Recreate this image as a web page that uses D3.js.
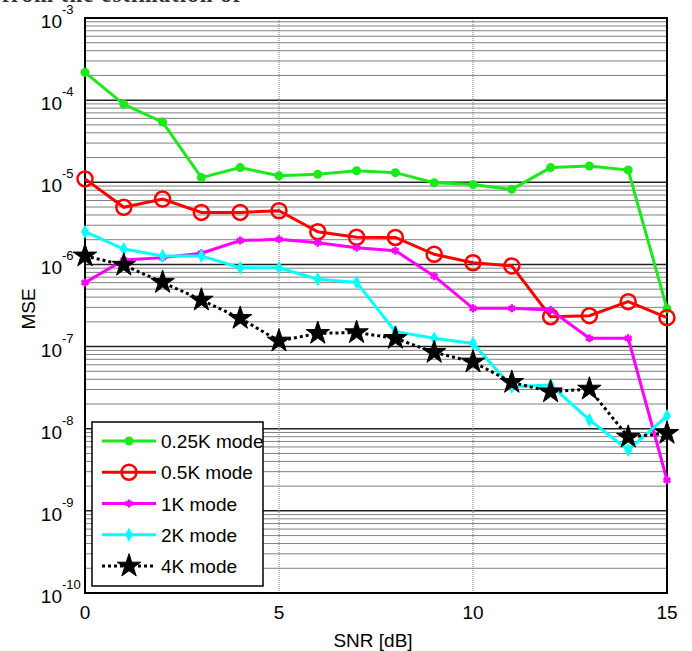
<!DOCTYPE html>
<html>
<head>
<meta charset="utf-8">
<script src="https://cdn.jsdelivr.net/npm/d3@7"></script>
<style>
  body { margin: 0; background: #fff; }
  text { font-family: Arial, "Liberation Sans", sans-serif; }
</style>
</head>
<body>
<div id="chart"></div>
<script>
// SNR values (dB)
var snr = [0, 1, 2, 3, 4, 5, 6, 7, 8, 9, 10, 11, 12, 13, 14, 15];

// MSE per mode
var mse025 = [2.18e-4, 8.9e-5, 5.4e-5, 1.14e-5, 1.51e-5, 1.2e-5, 1.25e-5, 1.38e-5, 1.31e-5, 9.9e-6, 9.4e-6, 8.2e-6, 1.51e-5, 1.58e-5, 1.41e-5, 2.9e-7];
var mse05 = [1.1e-5, 4.96e-6, 6.25e-6, 4.3e-6, 4.3e-6, 4.5e-6, 2.5e-6, 2.14e-6, 2.13e-6, 1.33e-6, 1.05e-6, 9.6e-7, 2.31e-7, 2.38e-7, 3.52e-7, 2.25e-7];
var mse1 = [6.0e-7, 1.13e-6, 1.21e-6, 1.37e-6, 1.95e-6, 2.02e-6, 1.84e-6, 1.6e-6, 1.47e-6, 7.2e-7, 2.92e-7, 2.92e-7, 2.79e-7, 1.26e-7, 1.26e-7, 2.37e-9];
var mse2 = [2.5e-6, 1.54e-6, 1.27e-6, 1.27e-6, 9.1e-7, 9.1e-7, 6.6e-7, 6.05e-7, 1.52e-7, 1.26e-7, 1.09e-7, 3.24e-8, 3.4e-8, 1.28e-8, 5.5e-9, 1.43e-8];
var mse4 = [1.27e-6, 9.8e-7, 6.05e-7, 3.69e-7, 2.21e-7, 1.17e-7, 1.45e-7, 1.48e-7, 1.26e-7, 8.5e-8, 6.5e-8, 3.67e-8, 2.82e-8, 3.04e-8, 7.9e-9, 8.8e-9];

var modeNames = ["0.25K mode", "0.5K mode", "1K mode", "2K mode", "4K mode"];
var xTicks = [0, 5, 10, 15];
var yExponents = [-3, -4, -5, -6, -7, -8, -9, -10];

var width = 692, height = 651;
var plotL = 85, plotR = 667, plotT = 18, plotB = 593;

var svg = d3.select("#chart").append("svg")
    .attr("width", width)
    .attr("height", height);

var x = d3.scaleLinear().domain([0, 15]).range([plotL, plotR]);
var y = d3.scaleLog().domain([1e-10, 1e-3]).range([plotB, plotT]);

// cut-off text from the page above
svg.append("text")
    .attr("x", 2).attr("y", 2)
    .style("font-family", "'Liberation Serif', serif")
    .style("font-weight", "bold")
    .style("font-size", "23px")
    .style("letter-spacing", "1px")
    .attr("fill", "#333")
    .text("from the estimation of");

// minor horizontal grid
var minor = [];
for (var e = -10; e < -3; e++) {
    for (var m = 2; m <= 9; m++) minor.push(m * Math.pow(10, e));
}
svg.append("g").selectAll("line")
    .data(minor).enter().append("line")
    .attr("x1", plotL).attr("x2", plotR)
    .attr("y1", function(d) { return y(d); })
    .attr("y2", function(d) { return y(d); })
    .attr("stroke", "#808080")
    .attr("stroke-width", 1);

// major horizontal grid
svg.append("g").selectAll("line")
    .data(yExponents).enter().append("line")
    .attr("x1", plotL).attr("x2", plotR)
    .attr("y1", function(d) { return y(Math.pow(10, d)); })
    .attr("y2", function(d) { return y(Math.pow(10, d)); })
    .attr("stroke", "#222")
    .attr("stroke-width", 1.5);

// vertical grid
svg.append("g").selectAll("line")
    .data([5, 10]).enter().append("line")
    .attr("x1", function(d) { return x(d); })
    .attr("x2", function(d) { return x(d); })
    .attr("y1", plotT).attr("y2", plotB)
    .attr("stroke", "#777")
    .attr("stroke-width", 1)
    .attr("stroke-dasharray", "1,1");

// frame
svg.append("rect")
    .attr("x", plotL).attr("y", plotT)
    .attr("width", plotR - plotL).attr("height", plotB - plotT)
    .attr("fill", "none")
    .attr("stroke", "#000")
    .attr("stroke-width", 2);

// x tick labels
svg.append("g").selectAll("text")
    .data(xTicks).enter().append("text")
    .attr("x", function(d) { return x(d); })
    .attr("y", 619)
    .attr("text-anchor", "middle")
    .style("font-size", "19px")
    .text(function(d) { return d; });

// y tick labels: 10 with superscript exponent
svg.append("g").selectAll("text")
    .data(yExponents).enter().append("text")
    .attr("x", 62)
    .attr("y", function(d) { return y(Math.pow(10, d)) + 10; })
    .attr("text-anchor", "end")
    .style("font-size", "19px")
    .text("10");
svg.append("g").selectAll("text")
    .data(yExponents).enter().append("text")
    .attr("x", 62)
    .attr("y", function(d) { return y(Math.pow(10, d)) - 4; })
    .style("font-size", "13px")
    .text(function(d) { return "-" + Math.abs(d); });

// axis titles
svg.append("text")
    .attr("x", 373).attr("y", 647)
    .attr("text-anchor", "middle")
    .style("font-size", "19px")
    .text("SNR [dB]");
svg.append("text")
    .attr("transform", "translate(35,309) rotate(-90)")
    .attr("text-anchor", "middle")
    .style("font-size", "19px")
    .text("MSE");

// markers
var star5 = d3.symbol().type(d3.symbolStar).size(170);
var diamond = d3.symbol().type(d3.symbolDiamond).size(55);
var asterisk = d3.symbol().type(d3.symbolAsterisk).size(45);

var series = [
    { name: modeNames[0], values: mse025, color: "#1aea1a", dash: null, marker: "dot" },
    { name: modeNames[1], values: mse05, color: "#ff0000", dash: null, marker: "ring" },
    { name: modeNames[2], values: mse1, color: "#ff00ff", dash: null, marker: "asterisk" },
    { name: modeNames[3], values: mse2, color: "#00ffff", dash: null, marker: "diamond" },
    { name: modeNames[4], values: mse4, color: "#000000", dash: "3,3", marker: "star" }
];

function drawMarker(g, s, cx, cy) {
    if (s.marker == "dot") {
        g.append("circle").attr("cx", cx).attr("cy", cy).attr("r", 4.5).attr("fill", s.color);
    } else if (s.marker == "ring") {
        g.append("circle").attr("cx", cx).attr("cy", cy).attr("r", 7.5)
            .attr("fill", "none").attr("stroke", s.color).attr("stroke-width", 2.5);
    } else if (s.marker == "asterisk") {
        g.append("path").attr("d", asterisk).attr("transform", "translate(" + cx + "," + cy + ")")
            .attr("fill", "none").attr("stroke", s.color).attr("stroke-width", 2.5);
    } else if (s.marker == "diamond") {
        g.append("path").attr("d", diamond).attr("transform", "translate(" + cx + "," + cy + ")")
            .attr("fill", s.color);
    } else {
        g.append("path").attr("d", star5).attr("transform", "translate(" + cx + "," + cy + ")")
            .attr("fill", "#000").attr("stroke", "#000").attr("stroke-width", 1);
    }
}

var line = d3.line()
    .x(function(d, i) { return x(snr[i]); })
    .y(function(d) { return y(d); });

series.forEach(function(s) {
    var g = svg.append("g");
    g.append("path")
        .attr("d", line(s.values))
        .attr("fill", "none")
        .attr("stroke", s.color)
        .attr("stroke-width", 3)
        .attr("stroke-dasharray", s.dash);
    s.values.forEach(function(v, i) {
        drawMarker(g, s, x(snr[i]), y(v));
    });
});

// legend
var lg = svg.append("g");
lg.append("rect")
    .attr("x", 92).attr("y", 422)
    .attr("width", 171).attr("height", 164)
    .attr("fill", "#fff")
    .attr("stroke", "#000")
    .attr("stroke-width", 1.5);
var rowY = d3.scalePoint().domain(modeNames).range([441, 566]);
series.forEach(function(s) {
    var ry = rowY(s.name);
    lg.append("line")
        .attr("x1", 102).attr("x2", 156)
        .attr("y1", ry).attr("y2", ry)
        .attr("stroke", s.color)
        .attr("stroke-width", 3)
        .attr("stroke-dasharray", s.dash);
    drawMarker(lg, s, 129, ry);
    lg.append("text")
        .attr("x", 161).attr("y", ry + 7)
        .style("font-size", "19px")
        .text(s.name);
});
</script>
</body>
</html>
